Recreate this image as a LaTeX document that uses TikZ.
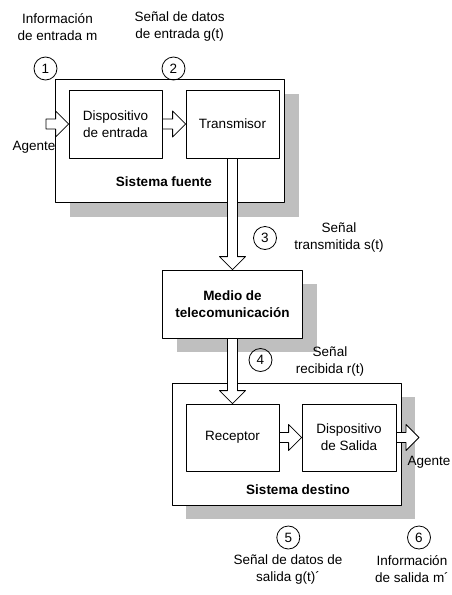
\documentclass[tikz,border=0pt]{standalone}
\usepackage{fontspec}
\setmainfont{Liberation Sans}
\usetikzlibrary{calc,shadows}
\newcommand{\flechahueca}[2]{%
\draw[flecha] ($(#1)!5pt!90:(#2)$) -- ($(#2)!13pt!(#1)!5pt!90:(#2)$) -- ($(#2)!13pt!(#1)!13pt!90:(#2)$) -- (#2) -- ($(#2)!13pt!(#1)!13pt!-90:(#2)$) -- ($(#2)!13pt!(#1)!5pt!-90:(#2)$) -- ($(#1)!5pt!-90:(#2)$) -- cycle;}
\begin{document}
\begin{tikzpicture}[x=1pt, y=-1pt, font=\fontsize{13.5}{17}\selectfont, line join=round, line width=0.8pt,
caja/.style={draw, fill=white, inner sep=0pt, align=center},
sombra/.style={drop shadow={shadow xshift=14pt, shadow yshift=-14pt, fill=gray!50, opacity=1}},
circulo/.style={draw, circle, minimum size=23pt, inner sep=0pt},
texto/.style={align=center, inner sep=0pt},
negrita/.style={font=\fontsize{13.5}{17}\selectfont\bfseries},
flecha/.style={draw, fill=white}]
\useasboundingbox (0,0) rectangle (452,595);
%Sistema fuente
\node[caja, sombra, minimum width=229pt, minimum height=123pt] (fuente) at (170,141) {};
\node[caja, minimum width=93pt, minimum height=68pt] (dispEnt) at (115.5,124) {Dispositivo\\de entrada};
\node[caja, minimum width=93pt, minimum height=68pt] (trans) at (232.5,124) {Transmisor};
\node[texto, negrita] (lblFuente) at (164,182) {Sistema fuente};
%Medio
\node[caja, sombra, negrita, minimum width=140pt, minimum height=68pt] (medio) at (232.5,304) {Medio de\\telecomunicación};
%Sistema destino
\node[caja, sombra, minimum width=229pt, minimum height=122pt] (destino) at (286.5,444) {};
\node[caja, minimum width=93pt, minimum height=67pt] (receptor) at (232.5,437.5) {Receptor};
\node[caja, minimum width=94pt, minimum height=67pt] (dispSal) at (349,437.5) {Dispositivo\\de Salida};
\node[texto, negrita] (lblDestino) at (298,490) {Sistema destino};
%Agentes
\node[texto] (agenteEnt) at (34,147) {Agente};
\node[texto] (agenteSal) at (429,462) {Agente};
\path (46,124) coordinate (entrada)
(419,437.5) coordinate (salida);
%Flechas
\flechahueca{entrada}{dispEnt.west}
\flechahueca{dispEnt.east}{trans.west}
\flechahueca{trans.south}{medio.north}
\flechahueca{medio.south}{receptor.north}
\flechahueca{receptor.east}{dispSal.west}
\flechahueca{dispSal.east}{salida}
%Puntos
\foreach \n/\x/\y in {1/45.5/68.5, 2/173.5/68.5, 3/265/238, 4/260.5/360, 5/288.3/537.5, 6/419/537.5}
\node[circulo] (c\n) at (\x,\y) {\n};
%Textos
\node[texto] (infoEnt) at (57.5,27) {Información\\de entrada m};
\node[texto] (senalEnt) at (179.7,27) {Señal de datos\\de entrada g(t)};
\node[texto] (senalTx) at (339,238) {Señal\\transmitida s(t)};
\node[texto] (senalRx) at (330,362) {Señal\\recibida r(t)};
\node[texto] (senalSal) at (288,569.5) {Señal de datos de\\salida g(t)´};
\node[texto] (infoSal) at (412,569.5) {Información\\de salida m´};
\end{tikzpicture}
\end{document}
